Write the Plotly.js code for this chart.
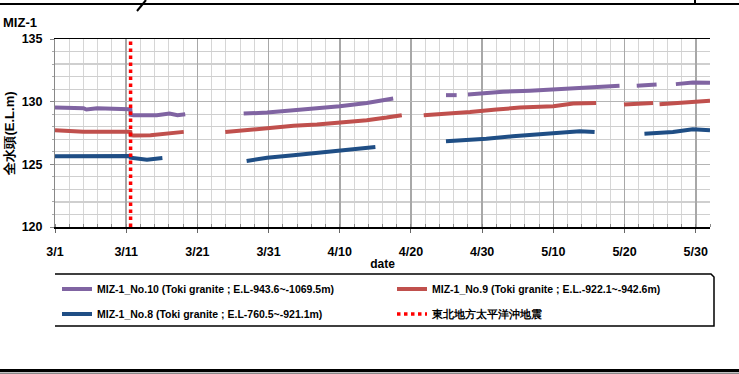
<!DOCTYPE html>
<html><head><meta charset="utf-8">
<script src="https://cdn.plot.ly/plotly-3.0.1.min.js"></script>
<style>html,body{margin:0;padding:0;background:#fff}#chart{width:739px;height:374px}</style>
</head><body><div id="chart"></div>
<script>
const chartTitle = 'MIZ-1';
const xTitle = 'date';
const yTitle = '全水頭(E.L.m)';
const name10 = 'MIZ-1_No.10 (Toki granite ; E.L-943.6~-1069.5m)';
const name9 = 'MIZ-1_No.9 (Toki granite ; E.L.-922.1~-942.6m)';
const name8 = 'MIZ-1_No.8 (Toki granite ; E.L-760.5~-921.1m)';
const quakeName = '東北地方太平洋沖地震';

const dates10 = ['2011-03-01 00:00','2011-03-05 00:00','2011-03-05 10:00','2011-03-06 22:00','2011-03-11 10:00','2011-03-11 14:00','2011-03-11 15:00','2011-03-12 01:00','2011-03-15 07:00','2011-03-17 02:00','2011-03-18 05:00','2011-03-19 07:00',
'2011-03-20 00:00',
'2011-03-27 12:00','2011-03-30 19:00','2011-04-03 12:00','2011-04-06 19:00','2011-04-10 00:00','2011-04-13 19:00','2011-04-16 14:00','2011-04-17 12:00',
'2011-04-20 00:00',
'2011-04-24 22:00','2011-04-26 10:00',
'2011-04-27 00:00',
'2011-04-28 00:00','2011-04-30 14:00','2011-05-02 22:00','2011-05-06 17:00','2011-05-10 00:00','2011-05-13 17:00','2011-05-16 12:00','2011-05-19 07:00',
'2011-05-20 00:00',
'2011-05-21 17:00','2011-05-24 12:00',
'2011-05-26 00:00',
'2011-05-27 05:00','2011-05-29 14:00','2011-06-01 00:00'];
const head10 = [129.53,129.48,129.37,129.48,129.40,129.38,128.95,128.92,128.92,129.05,128.92,129.00,
null,
129.05,129.13,129.32,129.45,129.64,129.90,130.17,130.25,
null,
130.52,130.52,
null,
130.57,130.70,130.79,130.87,130.97,131.13,131.24,131.27,
null,
131.27,131.37,
null,
131.40,131.53,131.50];

const dates9 = ['2011-03-01 00:00','2011-03-05 00:00','2011-03-11 10:00','2011-03-11 14:00','2011-03-11 15:00','2011-03-12 01:00','2011-03-14 10:00','2011-03-17 02:00','2011-03-19 02:00',
'2011-03-21 00:00',
'2011-03-24 22:00','2011-03-27 12:00','2011-03-30 19:00','2011-04-03 12:00','2011-04-06 19:00','2011-04-10 00:00','2011-04-13 19:00','2011-04-16 14:00','2011-04-18 17:00',
'2011-04-20 00:00',
'2011-04-21 19:00','2011-04-25 22:00','2011-04-28 07:00','2011-05-02 00:00','2011-05-05 07:00','2011-05-10 00:00','2011-05-12 19:00','2011-05-16 00:00',
'2011-05-18 00:00',
'2011-05-19 22:00','2011-05-24 00:00',
'2011-05-24 11:00',
'2011-05-24 22:00','2011-05-28 17:00','2011-06-01 00:00'];
const head9 = [127.72,127.59,127.59,127.58,127.32,127.30,127.32,127.45,127.59,
null,
127.58,127.72,127.90,128.07,128.17,128.30,128.52,128.73,128.92,
null,
128.92,129.05,129.17,129.37,129.53,129.64,129.85,129.90,
null,
129.77,129.90,
null,
129.80,129.98,130.07];

const dates8 = ['2011-03-01 00:00','2011-03-07 10:00','2011-03-11 10:00','2011-03-11 14:00','2011-03-11 15:00','2011-03-12 01:00','2011-03-13 22:00','2011-03-16 02:00',
'2011-03-20 00:00',
'2011-03-27 22:00','2011-03-30 19:00','2011-04-03 12:00','2011-04-06 19:00','2011-04-10 00:00','2011-04-12 19:00','2011-04-15 00:00',
'2011-04-20 00:00',
'2011-04-24 22:00','2011-04-27 19:00','2011-04-30 14:00','2011-05-04 07:00','2011-05-07 14:00','2011-05-11 10:00','2011-05-13 17:00','2011-05-15 19:00',
'2011-05-19 00:00',
'2011-05-22 19:00','2011-05-26 19:00','2011-05-29 14:00','2011-06-01 00:00'];
const head8 = [125.64,125.67,125.67,125.67,125.53,125.50,125.37,125.50,
null,
125.27,125.53,125.72,125.90,126.12,126.30,126.38,
null,
126.84,126.92,127.05,127.24,127.40,127.58,127.64,127.58,
null,
127.45,127.58,127.80,127.72];

const quakeDate = ['2011-03-11 14:46','2011-03-11 14:46'];
const quakeHead = [120, 135];

const tickDates = ['2011-03-01','2011-03-11','2011-03-21','2011-03-31','2011-04-10','2011-04-20','2011-04-30','2011-05-10','2011-05-20','2011-05-30'];
const tickLabels = ['3/1','3/11','3/21','3/31','4/10','4/20','4/30','5/10','5/20','5/30'];
const xRange = ['2011-03-01','2011-06-01'];
const yRange = [120, 135];

const W = 739, H = 374, L = 55, R = 29, T = 39, B = 147;
const pw = W - L - R, ph = H - T - B;
const px = x => (x - L) / pw;
const py = y => (H - B - y) / ph;
const FONT = 'Arial, "Liberation Sans", sans-serif';

const traces = [
  {x: dates10, y: head10, name: name10, type: 'scatter', mode: 'lines', connectgaps: false,
   line: {color: '#8064A2', width: 4}, legend: 'legend', hoverinfo: 'skip'},
  {x: dates9, y: head9, name: name9, type: 'scatter', mode: 'lines', connectgaps: false,
   line: {color: '#C0504D', width: 4}, legend: 'legend2', hoverinfo: 'skip'},
  {x: dates8, y: head8, name: name8, type: 'scatter', mode: 'lines', connectgaps: false,
   line: {color: '#1F4E85', width: 4}, legend: 'legend3', hoverinfo: 'skip'},
  {x: quakeDate, y: quakeHead, name: quakeName, type: 'scatter', mode: 'lines',
   line: {color: '#FF0000', width: 3.5, dash: 'dot'}, legend: 'legend4', hoverinfo: 'skip'}
];

const legendFont = {family: FONT, size: 10.5, color: '#000', weight: 'bold'};
const legendCommon = {orientation: 'h', xref: 'container', yref: 'container', xanchor: 'left',
  yanchor: 'middle', font: legendFont, bgcolor: 'rgba(0,0,0,0)', borderwidth: 0};
const leftX = 57, rightX = 392, row1 = 289, row2 = 314;

const boxPath = 'M' + px(55) + ',' + py(274) + ' L' + px(711) + ',' + py(274) + ' L' + px(714) + ',' + py(277) +
  ' L' + px(714) + ',' + py(326) + ' L' + px(55) + ',' + py(326);

const layout = {
  width: W, height: H,
  margin: {l: L, r: R, t: T, b: B, pad: 0},
  paper_bgcolor: '#fff', plot_bgcolor: '#fff',
  title: {text: chartTitle, font: {family: FONT, size: 13, color: '#000', weight: 'bold'},
          xref: 'container', yref: 'container', x: 3 / W, xanchor: 'left', y: 1 - 22 / H, yanchor: 'middle'},
  showlegend: true,
  legend: Object.assign({}, legendCommon, {x: leftX / W, y: 1 - row1 / H}),
  legend2: Object.assign({}, legendCommon, {x: rightX / W, y: 1 - row1 / H}),
  legend3: Object.assign({}, legendCommon, {x: leftX / W, y: 1 - row2 / H}),
  legend4: Object.assign({}, legendCommon, {x: rightX / W, y: 1 - row2 / H}),
  xaxis: {
    type: 'date', range: xRange, tickmode: 'array', tickvals: tickDates, ticktext: tickLabels,
    ticks: 'outside', ticklen: 4, tickcolor: '#666', tickwidth: 1,
    showgrid: true, gridcolor: '#a8a8a8', gridwidth: 1.5,
    minor: {dtick: 2 * 86400000, tick0: '2011-03-01', showgrid: true, gridcolor: '#d6d6d6', gridwidth: 1,
            ticks: 'inside', ticklen: 3, tickcolor: '#888'},
    showline: true, linecolor: '#000', linewidth: 1.5, mirror: true, zeroline: false,
    tickfont: {family: FONT, size: 12.5, color: '#000', weight: 'bold'}, ticklabelstandoff: 8,
    title: {text: xTitle, font: {family: FONT, size: 12, color: '#000', weight: 'bold'}, standoff: 2},
    fixedrange: true
  },
  yaxis: {
    range: yRange, tickmode: 'linear', tick0: 120, dtick: 5,
    ticks: 'outside', ticklen: 4, tickcolor: '#888',
    showgrid: true, gridcolor: '#b4b4b4', gridwidth: 1.5,
    minor: {dtick: 1, tick0: 120, showgrid: true, gridcolor: '#cfcfcf', gridwidth: 1.2, ticks: 'outside', ticklen: 2, tickcolor: '#aaa'},
    showline: true, linecolor: '#888', linewidth: 1, zeroline: false,
    tickfont: {family: FONT, size: 12.5, color: '#000', weight: 'bold'}, ticklabelstandoff: 5,
    title: {text: yTitle, font: {family: FONT, size: 13, color: '#000', weight: 'bold'}, standoff: 4},
    fixedrange: true
  },
  shapes: [
    {type: 'line', xref: 'paper', yref: 'paper', x0: px(0), x1: px(W), y0: py(4), y1: py(4), line: {color: '#000', width: 2}},
    {type: 'line', xref: 'paper', yref: 'paper', x0: px(137), x1: px(146), y0: py(11), y1: py(0), line: {color: '#000', width: 2}},
    {type: 'line', xref: 'paper', yref: 'paper', x0: px(695), x1: px(695), y0: py(0), y1: py(5), line: {color: '#000', width: 2}},
    {type: 'line', xref: 'paper', yref: 'paper', x0: px(0), x1: px(W), y0: py(370.5), y1: py(370.5), line: {color: '#000', width: 3}},
    {type: 'line', xref: 'paper', yref: 'paper', x0: px(0), x1: px(W), y0: py(373.2), y1: py(373.2), line: {color: '#888', width: 1.5}},
    {type: 'path', xref: 'paper', yref: 'paper', path: boxPath, line: {color: '#000', width: 1.5}}
  ]
};

Plotly.newPlot('chart', traces, layout, {staticPlot: true, displayModeBar: false});
</script>
</body></html>
